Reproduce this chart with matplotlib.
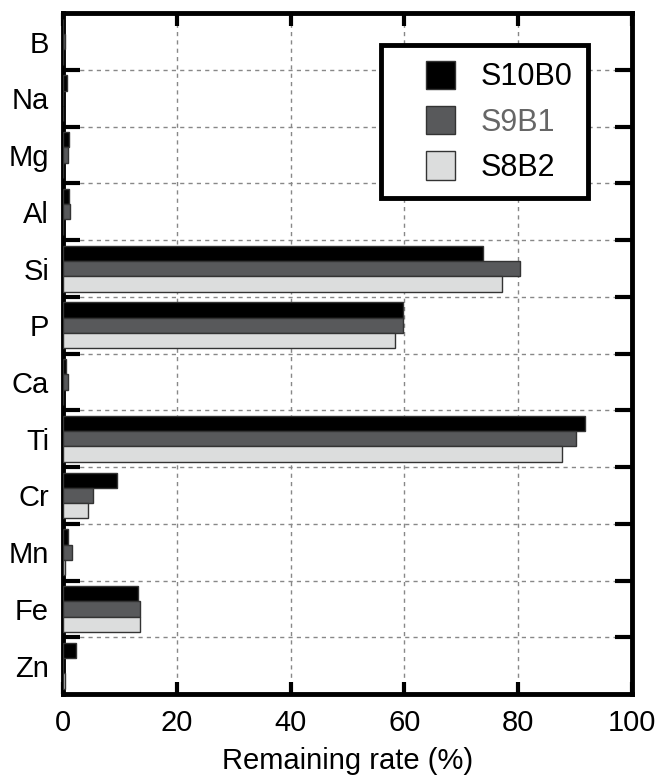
import numpy as np
import matplotlib
matplotlib.use("Agg")
import matplotlib.pyplot as plt
from matplotlib.patches import Rectangle
from matplotlib.container import BarContainer
from matplotlib.legend_handler import HandlerPatch

plt.rcParams['font.family'] = ['Liberation Sans', 'DejaVu Sans']

elements = ['B', 'Na', 'Mg', 'Al', 'Si', 'P', 'Ca', 'Ti', 'Cr', 'Mn', 'Fe', 'Zn']
s10b0 = [0.0, 0.7, 1.1, 1.0, 73.9, 59.8, 0.6, 91.8, 9.5, 0.8, 13.2, 2.2]
s9b1 = [0.4, 0.0, 0.8, 1.3, 80.3, 59.7, 0.8, 90.1, 5.3, 1.5, 13.5, 0.0]
s8b2 = [0.0, 0.0, 0.0, 0.0, 77.2, 58.3, 0.0, 87.7, 4.4, 0.4, 13.5, 0.4]
series = ['S10B0', 'S9B1', 'S8B2']
colors = ['#000000', '#58595b', '#dcdddd']
xticks = [0, 20, 40, 60, 80, 100]


def square_handle(legend, orig_handle, xdescent, ydescent, width, height, fontsize):
    # square swatch pushed to the right end of the handle box
    side = height
    return Rectangle((width - side - xdescent, -ydescent), side, side)


def copy_first_bar(tgt, src):
    tgt.update_from(src.patches[0])


fig = plt.figure(figsize=(6.61, 7.82), dpi=100)
ax = fig.add_axes([0.0953, 0.1125, 0.8607, 0.8705])

y = np.arange(len(elements))
h = 0.27
for k, (vals, c, name) in enumerate(zip([s10b0, s9b1, s8b2], colors, series)):
    ax.barh(y + (k - 1) * h, vals, height=h, color=c, edgecolor='#333333',
            linewidth=1.0, label=name, zorder=3)

ax.set_xlim(0, 100)
ax.set_ylim(len(elements) - 0.5, -0.5)

ax.set_xticks(xticks)
ax.set_xticklabels([str(t) for t in xticks])
ax.set_yticks(np.arange(len(elements) - 1) + 0.5)
ax.set_yticklabels([])
ax.set_yticks(y, minor=True)
ax.set_yticklabels(elements, minor=True)

ax.tick_params(axis='x', which='major', direction='in', length=9, width=3,
               top=True, labelsize=21, pad=11)
ax.tick_params(axis='y', which='major', direction='in', length=12, width=3,
               right=True)
ax.tick_params(axis='y', which='minor', length=0, labelsize=21, pad=10)

ax.grid(True, which='major', color='#888888', linestyle=(0, (3, 3)),
        linewidth=1.0, zorder=0)
ax.set_axisbelow(True)

for sp in ax.spines.values():
    sp.set_linewidth(3.5)

ax.set_xlabel('Remaining rate (%)', fontsize=21, labelpad=7)

leg = ax.legend(loc='upper right', bbox_to_anchor=(0.9227, 0.953),
                borderaxespad=0, fontsize=22, fancybox=False, framealpha=1,
                edgecolor='black', handlelength=1.9, handleheight=1.05,
                handletextpad=0.85, labelspacing=0.45, borderpad=0.5,
                handler_map={BarContainer: HandlerPatch(patch_func=square_handle,
                                                        update_func=copy_first_bar)})
leg.get_frame().set_linewidth(3.5)
leg.texts[1].set_color('#666666')

fig.savefig('out.png', dpi=100)
